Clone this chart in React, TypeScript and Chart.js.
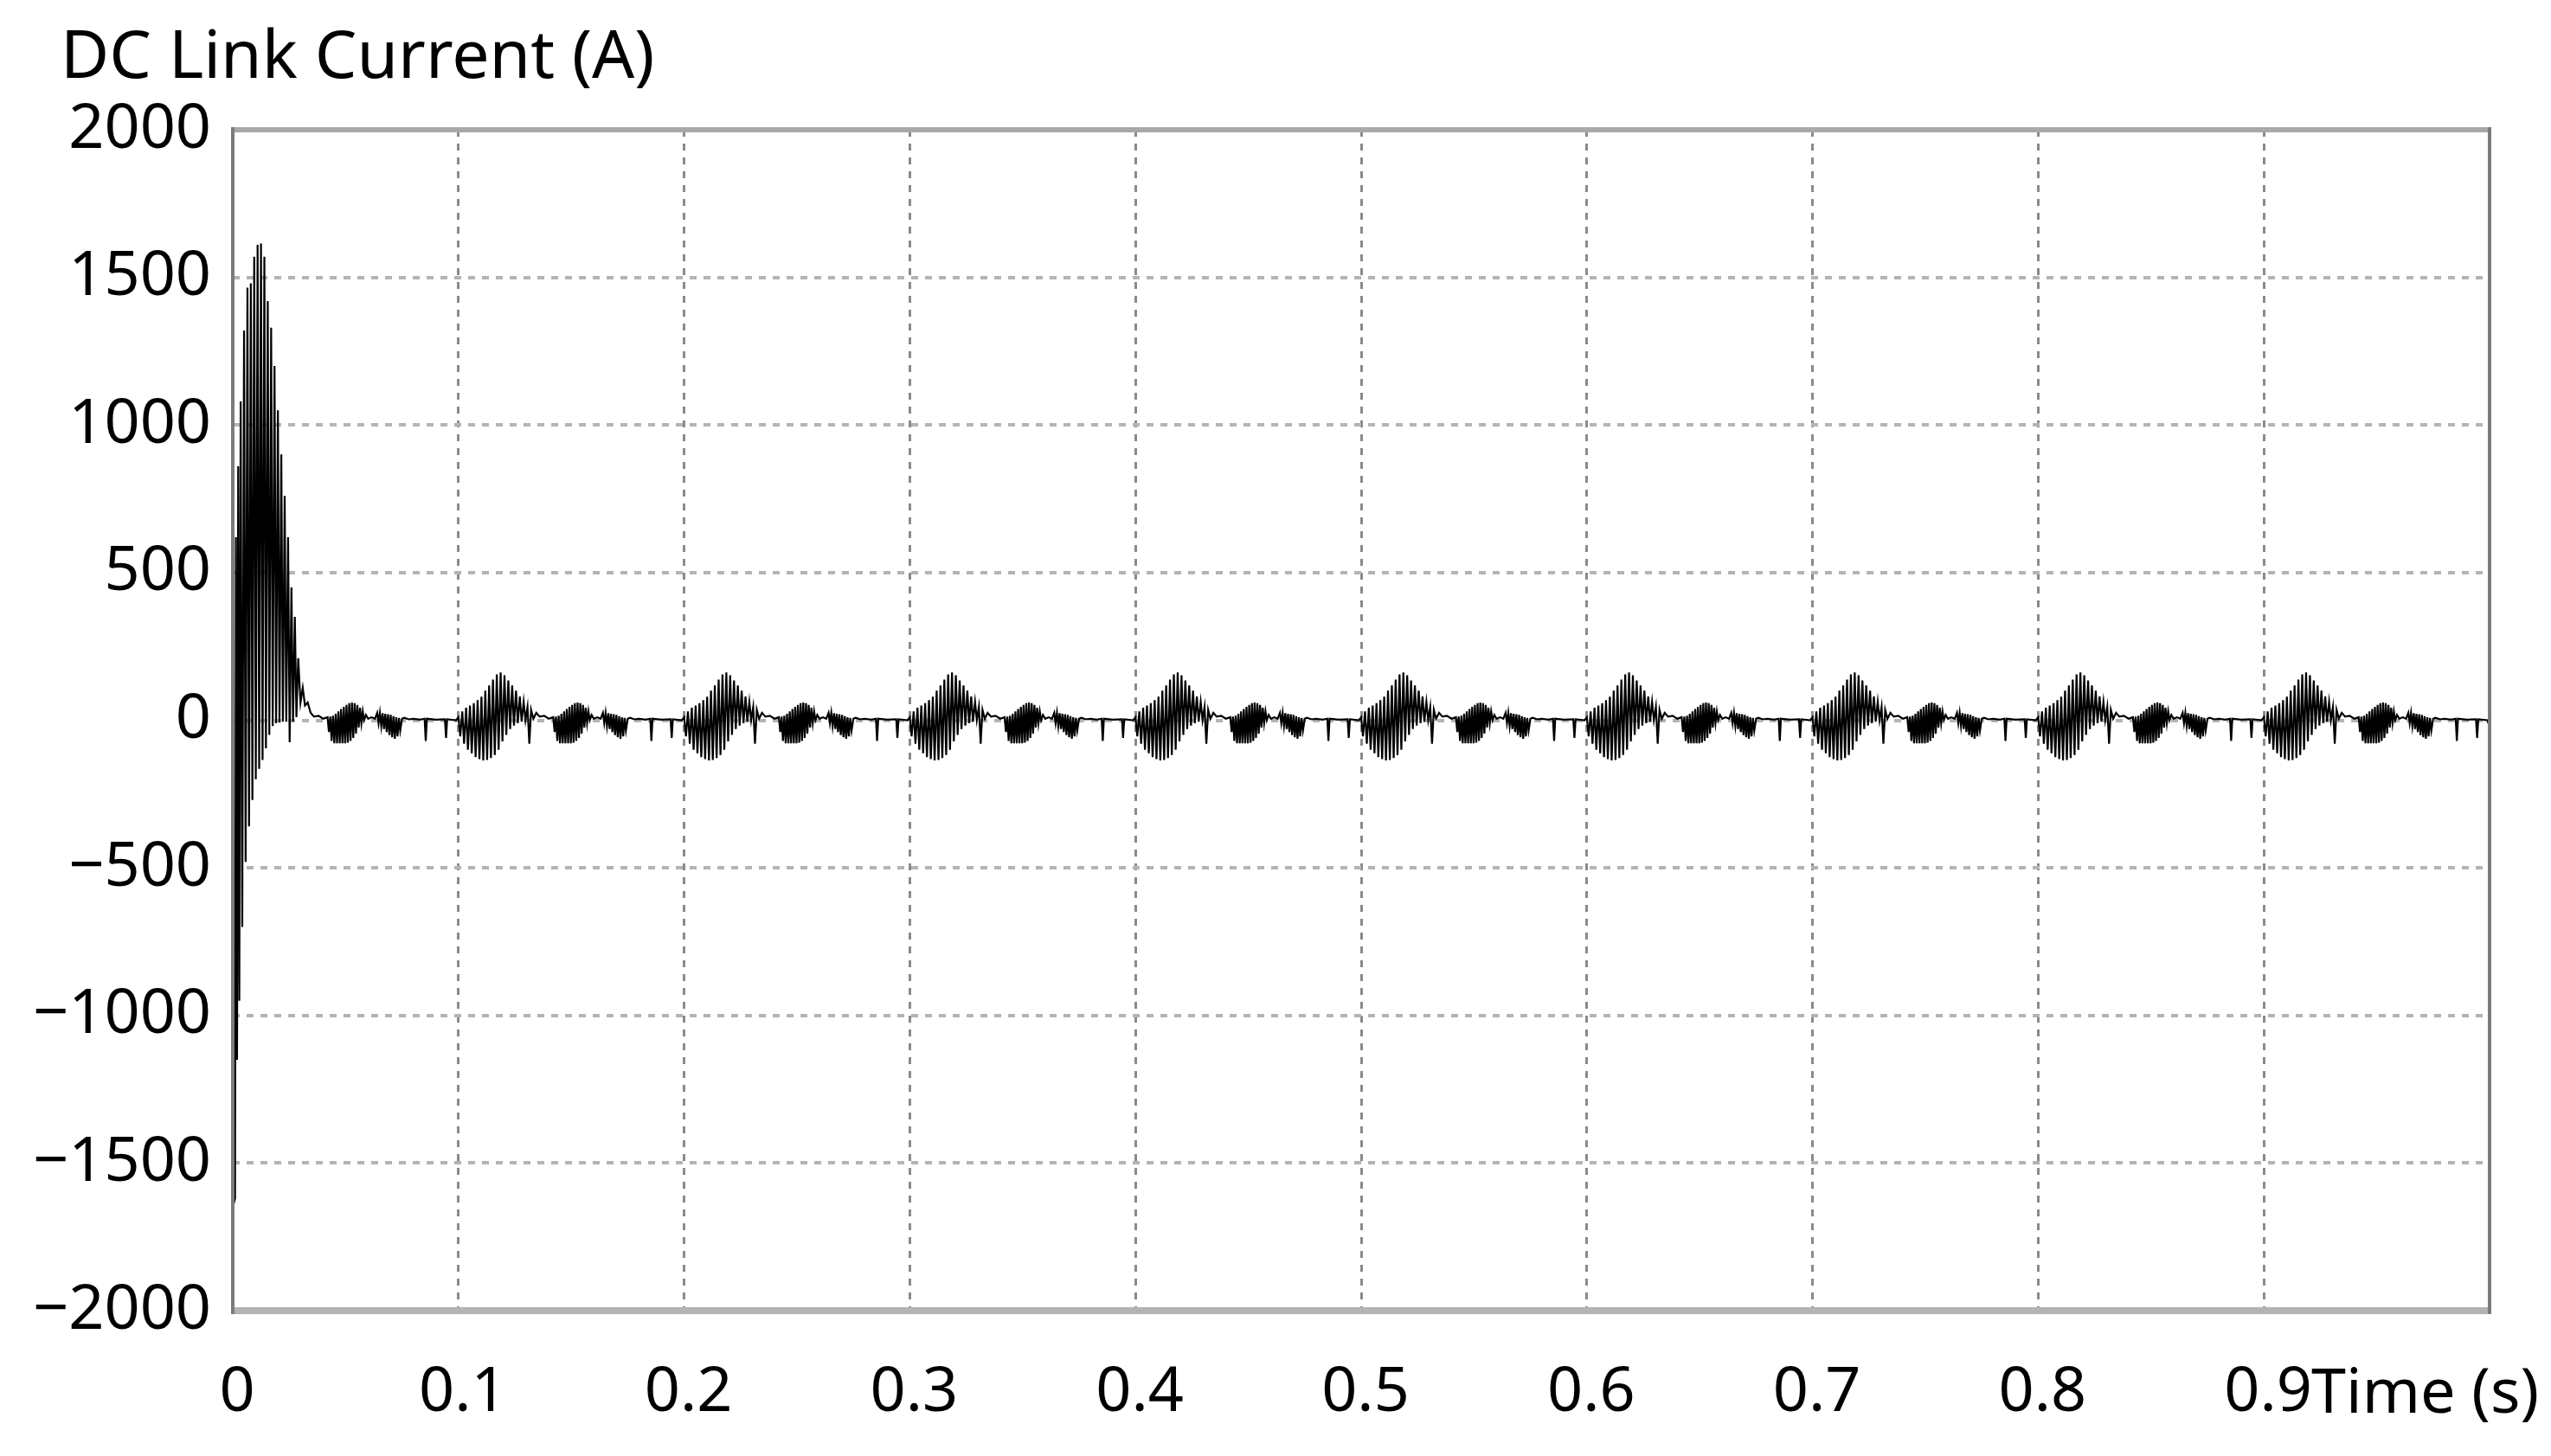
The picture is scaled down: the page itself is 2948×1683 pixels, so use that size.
import React, { useEffect, useRef } from "react";
import { Chart, registerables } from "chart.js";

Chart.register(...registerables);

// ---- data ----
const yTickValues = [-2000, -1500, -1000, -500, 0, 500, 1000, 1500, 2000];
const xTickValues = [0, 0.1, 0.2, 0.3, 0.4, 0.5, 0.6, 0.7, 0.8, 0.9, 1.0];
const xTickLabels = ["0", "0.1", "0.2", "0.3", "0.4", "0.5", "0.6", "0.7", "0.8", "0.9", ""];
const yTitle = "DC Link Current (A)";
const xTitle = "Time (s)";

// start-up transient [time s, current A]
const startupSamples: [number, number][] = [
  [0.0000, -1650], [0.0010, -1620], [0.0014, 620], [0.0019, -1150], [0.0024, 860], [0.0029, -950],
  [0.0035, 1080], [0.0042, -700], [0.0050, 1320], [0.0057, -480], [0.0065, 1465],
  [0.0072, -360], [0.0080, 1480], [0.0087, -270], [0.0095, 1570], [0.0102, -200],
  [0.0110, 1610], [0.0117, -165], [0.0125, 1615], [0.0132, -135], [0.0140, 1570],
  [0.0147, -95], [0.0155, 1420], [0.0162, -50], [0.0170, 1330], [0.0177, -20],
  [0.0185, 1200], [0.0192, -10], [0.0200, 1050], [0.0207, -8], [0.0215, 900],
  [0.0222, -5], [0.0230, 760], [0.0237, -5], [0.0245, 620], [0.0252, -75],
  [0.0260, 450], [0.0267, -5], [0.0275, 350], [0.0282, 10], [0.0290, 210],
  [0.0300, 60], [0.0310, 110], [0.0320, 50], [0.0332, 60], [0.0345, 25],
];

// one 0.1 s cycle of the steady-state ripple [offset from cycle start s, current A]
const cycleSamples: [number, number][] = [
  [0.0000, 10], [0.0008, -55], [0.0017, 30], [0.0025, -80], [0.0034, 42],
  [0.0042, -100], [0.0051, 50], [0.0059, -112], [0.0068, 58], [0.0076, -125],
  [0.0085, 68], [0.0093, -132], [0.0102, 80], [0.0110, -136], [0.0119, 100],
  [0.0127, -135], [0.0136, 118], [0.0144, -128], [0.0153, 138], [0.0161, -118],
  [0.0170, 155], [0.0178, -100], [0.0187, 162], [0.0195, -72], [0.0204, 152],
  [0.0212, -50], [0.0221, 135], [0.0229, -30], [0.0238, 118], [0.0246, -18],
  [0.0255, 100], [0.0263, -10], [0.0272, 80], [0.0280, -5], [0.0289, 62],
  [0.0297, 0], [0.0306, 45], [0.0314, -80], [0.0322, 35], [0.0332, 5],
  [0.0345, 25], [0.0360, 12], [0.0380, 15], [0.0400, 5],
  [0.0420, 10], [0.0426, -40], [0.0432, 12], [0.0438, -70], [0.0444, 15],
  [0.0450, -78], [0.0456, 22], [0.0462, -78], [0.0468, 30], [0.0474, -78],
  [0.0480, 38], [0.0486, -78], [0.0492, 45], [0.0498, -78], [0.0504, 52],
  [0.0510, -76], [0.0516, 58], [0.0522, -70], [0.0528, 60], [0.0534, -60],
  [0.0540, 58], [0.0546, -45], [0.0552, 52], [0.0558, -25], [0.0564, 42],
  [0.0570, -10], [0.0576, 30], [0.0582, 0], [0.0590, 18], [0.0600, 5],
  [0.0615, 10], [0.0630, 5],
  [0.0640, 25], [0.0646, -10], [0.0652, 25], [0.0658, -20], [0.0664, 24],
  [0.0670, -30], [0.0676, 22], [0.0682, -40], [0.0688, 20], [0.0694, -50],
  [0.0700, 18], [0.0706, -58], [0.0712, 14], [0.0718, -63], [0.0724, 10],
  [0.0730, -55], [0.0736, 8], [0.0742, -35], [0.0750, 5], [0.0760, 8],
  [0.0780, 3], [0.0800, 5], [0.0830, 2], [0.0850, 5], [0.0855, -70],
  [0.0860, 5], [0.0900, 2], [0.0940, 3], [0.0945, -60], [0.0950, 3],
  [0.0990, 0],
];

const cycleStarts = [0.1, 0.2, 0.3, 0.4, 0.5, 0.6, 0.7, 0.8, 0.9];
const firstCycleTailFrom = 0.036;
const finalSample: [number, number] = [1.0, -20];

const FONT = '"Noto Sans", "Open Sans", sans-serif';

function buildPoints() {
  const pts: { x: number; y: number }[] = [];
  startupSamples.forEach(([t, v]) => pts.push({ x: t, y: v }));
  cycleSamples.forEach(([dt, v]) => {
    if (dt >= firstCycleTailFrom) pts.push({ x: dt, y: v });
  });
  cycleStarts.forEach((s) => {
    cycleSamples.forEach(([dt, v]) => pts.push({ x: Math.round((s + dt) * 1e5) / 1e5, y: v }));
  });
  pts.push({ x: finalSample[0], y: finalSample[1] });
  return pts;
}

const framePlugin = {
  id: "frame",
  afterDraw(chart: any) {
    const { ctx, chartArea } = chart;
    const { left, right, top, bottom } = chartArea;
    ctx.save();
    ctx.setLineDash([]);
    ctx.strokeStyle = "#a8a8a8";
    ctx.lineWidth = 6;
    ctx.beginPath();
    ctx.moveTo(left, top);
    ctx.lineTo(right, top);
    ctx.stroke();
    ctx.strokeStyle = "#b3b3b3";
    ctx.lineWidth = 8;
    ctx.beginPath();
    ctx.moveTo(left, bottom);
    ctx.lineTo(right, bottom);
    ctx.stroke();
    ctx.strokeStyle = "#7c7c7c";
    ctx.lineWidth = 4;
    ctx.beginPath();
    ctx.moveTo(left, top - 3);
    ctx.lineTo(left, bottom + 4);
    ctx.moveTo(right, top - 3);
    ctx.lineTo(right, bottom + 4);
    ctx.stroke();

    // y title (top-left, horizontal)
    ctx.fillStyle = "#000";
    ctx.font = `77px ${FONT}`;
    ctx.textAlign = "left";
    ctx.textBaseline = "alphabetic";
    ctx.fillText(yTitle, 62, 82);

    // x title directly after the 0.9 tick label
    const xs = chart.scales.x;
    ctx.font = `72px ${FONT}`;
    const w09 = ctx.measureText("0.9").width;
    const x0 = xs.getPixelForValue(0.9) + 4 + w09 / 2;
    ctx.fillText(xTitle, x0, 1625);
    ctx.restore();
  },
};

export default function App() {
  const ref = useRef<HTMLCanvasElement | null>(null);
  useEffect(() => {
    if (!ref.current) return;
    const chart = new Chart(ref.current, {
      type: "line",
      data: {
        datasets: [
          {
            data: buildPoints(),
            borderColor: "#000",
            borderWidth: 2.2,
            pointRadius: 0,
            tension: 0,
            fill: false,
          },
        ],
      },
      options: {
        responsive: false,
        animation: false,
        events: [],
        layout: { padding: { top: 142, right: 63, left: 0, bottom: 0 } },
        plugins: {
          legend: { display: false },
          tooltip: { enabled: false },
          title: { display: false },
        },
        scales: {
          x: {
            type: "linear",
            min: 0,
            max: 1,
            afterBuildTicks: (s: any) => {
              s.ticks = xTickValues.map((v) => ({ value: v }));
            },
            afterFit: (s: any) => {
              s.height = 160;
            },
            ticks: {
              autoSkip: false,
              maxRotation: 0,
              minRotation: 0,
              padding: 52,
              labelOffset: 5,
              color: "#000",
              font: { family: FONT, size: 72 },
              callback: (v: any) => {
                const i = xTickValues.findIndex((t) => Math.abs(t - Number(v)) < 1e-9);
                return i >= 0 ? xTickLabels[i] : "";
              },
            },
            grid: { color: "#8a8a8a", lineWidth: 3, drawTicks: false },
            border: { display: false, dash: [8, 8] },
          },
          y: {
            type: "linear",
            min: -2000,
            max: 2000,
            afterBuildTicks: (s: any) => {
              s.ticks = yTickValues.map((v) => ({ value: v }));
            },
            afterFit: (s: any) => {
              s.width = 261;
            },
            ticks: {
              padding: 25,
              color: "#000",
              font: { family: FONT, size: 72 },
              callback: (v: any) => String(v).replace("-", "\u2212"),
            },
            grid: { color: "#b4b4b4", lineWidth: 4, drawTicks: false },
            border: { display: false, dash: [8, 8] },
          },
        },
      },
      plugins: [framePlugin],
    });
    return () => chart.destroy();
  }, []);
  return (
    <canvas
      ref={ref}
      width={2932}
      height={1667}
      style={{ display: "block", width: 2932, height: 1667 }}
    />
  );
}
